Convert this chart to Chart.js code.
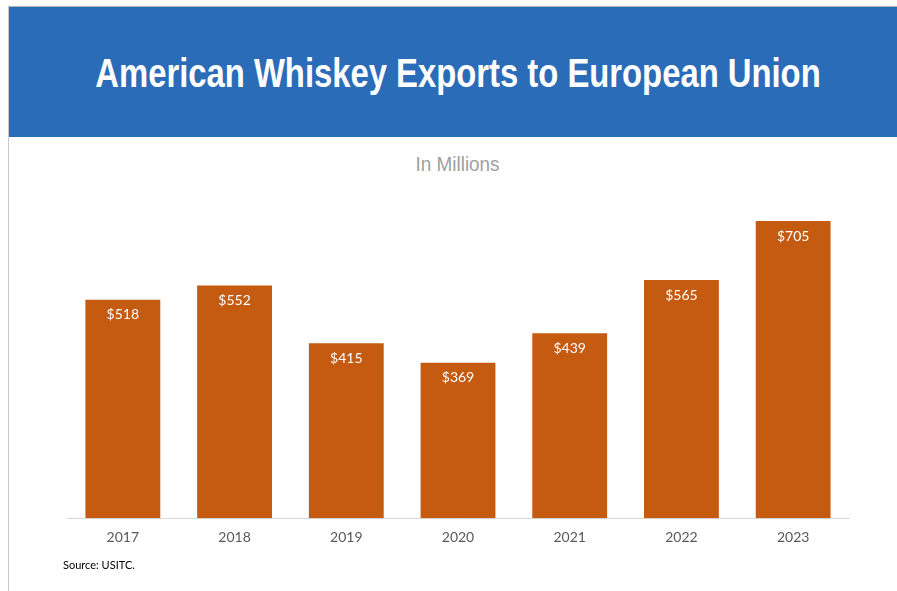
<!DOCTYPE html>
<html><head><meta charset="utf-8">
<script src="https://cdn.jsdelivr.net/npm/chart.js@4"></script>
<style>
html,body{margin:0;padding:0;background:#fff;width:897px;height:591px;overflow:hidden;position:relative;font-family:"Liberation Sans",Arial,sans-serif}
#frame{position:absolute;left:8px;top:6px;right:0;bottom:0;border-left:1px solid #c8c8c8;border-top:1px solid #b0b0b0}
#band{position:absolute;left:9px;top:7px;width:888px;height:130px;background:#2B6CB8}
#title{position:absolute;left:0;width:916px;top:7px;height:130px;color:#fff;font-weight:bold;font-size:40px;text-align:center;line-height:132px;white-space:nowrap;transform:scaleX(0.82);transform-origin:458px 0}
#sub{position:absolute;left:0;width:915px;top:152px;text-align:center;color:#a0a0a0;font-size:21px;transform:scaleX(0.9);transform-origin:458px 0}
#src{position:absolute;left:63px;top:558px;font-family:Lato,"Liberation Sans",sans-serif;font-size:11px;color:#000}
#wrap{position:absolute;left:9px;top:140px;width:888px;height:451px}
</style></head><body>
<div id="frame"></div>
<div id="band"></div>
<div id="title">American Whiskey Exports to European Union</div>
<div id="sub">In Millions</div>
<div id="wrap"><canvas id="c"></canvas></div>
<div id="src">Source: USITC.</div>
<script>
const years = ["2017","2018","2019","2020","2021","2022","2023"];
const exportsMillions = [518, 552, 415, 369, 439, 565, 705];
const valueLabels = ["$518","$552","$415","$369","$439","$565","$705"];

const labelPlugin = {
  id:'vals',
  afterDatasetsDraw(chart){
    const ctx = chart.ctx;
    const meta = chart.getDatasetMeta(0);
    ctx.save();
    ctx.fillStyle = '#ffffff';
    ctx.font = '14px Lato, "Liberation Sans", sans-serif';
    ctx.textAlign = 'center';
    ctx.textBaseline = 'middle';
    meta.data.forEach((bar,i)=>{
      ctx.fillText(valueLabels[i], bar.x, bar.y + 15);
    });
    ctx.restore();
  }
};

new Chart(document.getElementById('c'), {
  type:'bar',
  data:{labels:years, datasets:[{data:exportsMillions, backgroundColor:'#C55A11', barPercentage:0.67, categoryPercentage:1}]},
  options:{
    responsive:true, maintainAspectRatio:false, animation:false,
    layout:{padding:{left:58,right:48,top:41,bottom:34}},
    plugins:{legend:{display:false},tooltip:{enabled:false},title:{display:false}},
    scales:{
      y:{display:false,min:0,max:800},
      x:{grid:{display:false,drawTicks:false},border:{display:true,color:'#d9d9d9',width:1},
         ticks:{color:'#595959',font:{family:'Lato, "Liberation Sans", sans-serif',size:14},padding:11}}
    }
  },
  plugins:[labelPlugin]
});
</script>
</body></html>
